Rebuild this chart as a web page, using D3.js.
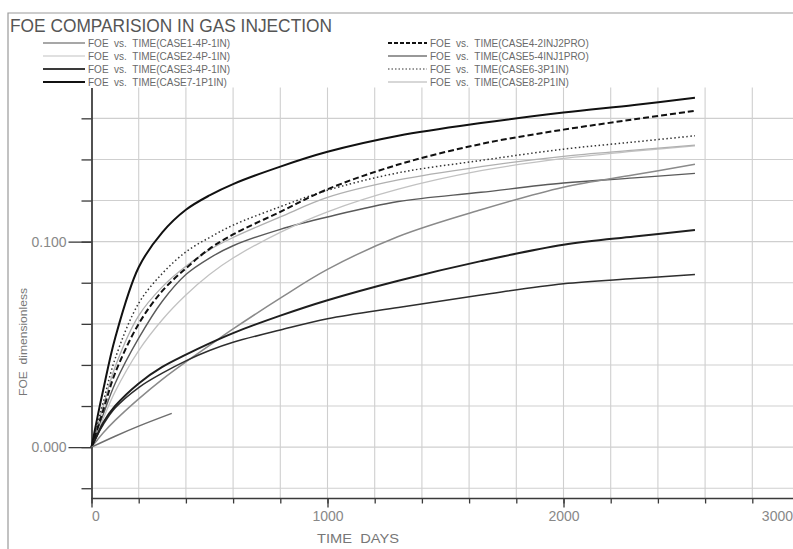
<!DOCTYPE html>
<html>
<head>
<meta charset="utf-8">
<script src="https://cdn.jsdelivr.net/npm/d3@7"></script>
<style>
    body { margin: 0; background: #fff; }
    text { font-family: 'Liberation Sans', Arial, sans-serif; fill: #6a6a6a; white-space: pre; }
    .grid { stroke: #cfcfcf; stroke-width: 1.1; }
    .axis path, .axis line { stroke: #3a3a3a; stroke-width: 1.3; }
    .frame { stroke: #9a9a9a; stroke-width: 1.2; fill: none; }
</style>
</head>
<body>
<svg class="scene"></svg>
<script>

//
// data
//

var days = [0, 25, 50, 100, 200, 300, 400, 500, 600, 800, 1000, 1300, 1650, 2000, 2300, 2557];

var case1 = [0, 0.0035, 0.007, 0.013, 0.0235, 0.033, 0.0415, 0.0495, 0.0575, 0.0725, 0.0865, 0.1025, 0.1155, 0.1265, 0.1325, 0.1376];
var case2 = [0, 0.007, 0.014, 0.027, 0.047, 0.062, 0.074, 0.084, 0.092, 0.1045, 0.1145, 0.1255, 0.1345, 0.1405, 0.144, 0.1466];
var case3 = [0, 0.006, 0.012, 0.020, 0.031, 0.039, 0.045, 0.0505, 0.0555, 0.064, 0.0715, 0.081, 0.0905, 0.0985, 0.1025, 0.1056];
var case4 = [0, 0.009, 0.018, 0.036, 0.060, 0.076, 0.087, 0.0965, 0.1035, 0.1145, 0.1255, 0.1375, 0.1475, 0.1545, 0.1595, 0.1637];
var case5 = [0, 0.006, 0.011, 0.019, 0.029, 0.036, 0.042, 0.047, 0.051, 0.057, 0.0625, 0.068, 0.074, 0.0795, 0.082, 0.084];
var case6 = [0, 0.011, 0.022, 0.043, 0.070, 0.0845, 0.095, 0.102, 0.108, 0.117, 0.125, 0.1335, 0.1395, 0.145, 0.1485, 0.1515];
var case7 = [0, 0.0145, 0.028, 0.053, 0.0875, 0.1045, 0.1155, 0.1225, 0.128, 0.1365, 0.1437, 0.1515, 0.1577, 0.1628, 0.1665, 0.170];
var case8 = [0, 0.010, 0.020, 0.039, 0.064, 0.078, 0.088, 0.096, 0.102, 0.112, 0.1215, 0.130, 0.1365, 0.1415, 0.1445, 0.147];
// curves drawn without a legend entry
var extraDark = [0, 0.008, 0.016, 0.031, 0.053, 0.071, 0.084, 0.092, 0.098, 0.106, 0.112, 0.1195, 0.124, 0.1285, 0.131, 0.1332];
var shortDays = [0, 100, 200, 340];
var shortRun = [0, 0.0053, 0.0102, 0.0164];

var legendLeft = ["FOE  vs.  TIME(CASE1-4P-1IN)", "FOE  vs.  TIME(CASE2-4P-1IN)",
                  "FOE  vs.  TIME(CASE3-4P-1IN)", "FOE  vs.  TIME(CASE7-1P1IN)"];
var legendRight = ["FOE  vs.  TIME(CASE4-2INJ2PRO)", "FOE  vs.  TIME(CASE5-4INJ1PRO)",
                   "FOE  vs.  TIME(CASE6-3P1IN)", "FOE  vs.  TIME(CASE8-2P1IN)"];

var xMajor = [0, 1000, 2000, 3000];
var yMajor = [0, 0.1];

//
// scene
//

var width = 793,
    height = 549;

var scene = d3.select(".scene")
    .attr("width", width)
    .attr("height", height);

var x = d3.scaleLinear().domain([0, 3000]).range([91.5, 799.5]);
var y = d3.scaleLinear().domain([-0.025, 0.175]).range([498.5, 87.5]);

var xMinor = d3.range(0, 3001, 200);
var yMinor = d3.range(-0.02, 0.161, 0.02);

// frame
scene.append("path")
    .attr("class", "frame")
    .attr("d", "M8,549 V13 H793");

//
// grid
//

scene.append("g").selectAll("line")
    .data(xMinor.filter(function (d) { return d > 0; }))
    .enter().append("line")
    .attr("class", "grid")
    .attr("x1", function (d) { return x(d); })
    .attr("x2", function (d) { return x(d); })
    .attr("y1", y(0.175))
    .attr("y2", y(-0.025));

scene.append("g").selectAll("line")
    .data(yMinor)
    .enter().append("line")
    .attr("class", "grid")
    .attr("x1", x(0))
    .attr("x2", width)
    .attr("y1", function (d) { return y(d); })
    .attr("y2", function (d) { return y(d); });

//
// axes
//

scene.append("g")
    .attr("class", "axis")
    .attr("transform", "translate(" + x(0) + ",0)")
    .call(d3.axisLeft(y).tickValues(yMinor).tickSize(10).tickSizeOuter(0).tickFormat(""));

var yAxis = scene.append("g")
    .attr("class", "axis")
    .attr("transform", "translate(" + x(0) + ",0)")
    .call(d3.axisLeft(y).tickValues(yMajor).tickSize(23).tickSizeOuter(0).tickFormat(d3.format(".3f")));
yAxis.selectAll("text")
    .attr("x", -25)
    .style("font-size", "14px")
    .style("fill", "#888");

scene.append("g")
    .attr("class", "axis")
    .attr("transform", "translate(0," + y(-0.025) + ")")
    .call(d3.axisBottom(x).tickValues(xMinor).tickSize(5).tickSizeOuter(0).tickFormat(""))
    .select(".domain").attr("d", "M" + x(0) + ",0H" + width);

var xAxis = scene.append("g")
    .attr("class", "axis")
    .attr("transform", "translate(0," + y(-0.025) + ")")
    .call(d3.axisBottom(x).tickValues(xMajor).tickSize(9).tickSizeOuter(0).tickFormat(d3.format("d")));
xAxis.select(".domain").remove();
xAxis.selectAll("text")
    .attr("y", 13)
    .attr("dx", function (d) { return d === 3000 ? -7 : 0; })
    .style("font-size", "14px")
    .style("fill", "#888")
    .attr("text-anchor", function (d) { return d === 0 ? "start" : d === 3000 ? "end" : "middle"; });

scene.append("text")
    .attr("x", 317)
    .attr("y", 543)
    .attr("textLength", 82)
    .attr("lengthAdjust", "spacingAndGlyphs")
    .style("font-size", "13px")
    .style("fill", "#777")
    .text("TIME  DAYS");

scene.append("text")
    .attr("transform", "translate(27,342) rotate(-90)")
    .attr("text-anchor", "middle")
    .attr("textLength", 108)
    .attr("lengthAdjust", "spacingAndGlyphs")
    .style("font-size", "11px")
    .style("fill", "#777")
    .text("FOE  dimensionless");

//
// curves
//

var series = [
    { vals: extraDark, color: "#5a5a5a", w: 1.4, dash: null },
    { vals: case2, color: "#c2c2c2", w: 1.3, dash: null },
    { vals: case8, color: "#b0b0b0", w: 1.3, dash: null },
    { vals: case1, color: "#8a8a8a", w: 1.5, dash: null },
    { vals: case5, color: "#2e2e2e", w: 1.5, dash: null },
    { vals: case3, color: "#1e1e1e", w: 2.0, dash: null },
    { vals: case6, color: "#333", w: 1.5, dash: "1.5,2.5" },
    { vals: case4, color: "#111", w: 2.0, dash: "6,3" },
    { vals: case7, color: "#111", w: 2.0, dash: null }
];

var line = d3.line()
    .x(function (d) { return x(d[0]); })
    .y(function (d) { return y(d[1]); })
    .curve(d3.curveCatmullRom.alpha(0.5));

series.forEach(function (s) {
    scene.append("path")
        .datum(days.map(function (t, i) { return [t, s.vals[i]]; }))
        .attr("d", line)
        .attr("fill", "none")
        .attr("stroke", s.color)
        .attr("stroke-width", s.w)
        .attr("stroke-dasharray", s.dash);
});

scene.append("path")
    .datum(shortDays.map(function (t, i) { return [t, shortRun[i]]; }))
    .attr("d", line)
    .attr("fill", "none")
    .attr("stroke", "#6e6e6e")
    .attr("stroke-width", 1.5);

//
// legend
//

var legendStyle = [
    { color: "#8a8a8a", w: 1.5, dash: null },
    { color: "#c2c2c2", w: 1.2, dash: null },
    { color: "#3a3a3a", w: 2.2, dash: null },
    { color: "#111", w: 2.2, dash: null },
    { color: "#111", w: 2.0, dash: "4,2" },
    { color: "#333", w: 1.2, dash: null },
    { color: "#333", w: 1.2, dash: "1.5,2" },
    { color: "#b0b0b0", w: 1.2, dash: null }
];

function legendRow(label, i, x0, x1, tx) {
    var row = i % 4;
    var cy = 43 + row * 13;
    var st = legendStyle[i];
    scene.append("line")
        .attr("x1", x0).attr("x2", x1)
        .attr("y1", cy).attr("y2", cy)
        .attr("stroke", st.color)
        .attr("stroke-width", st.w)
        .attr("stroke-dasharray", st.dash);
    scene.append("text")
        .attr("x", tx)
        .attr("y", cy + 3.5)
        .style("font-size", "10px")
        .text(label);
}

legendLeft.forEach(function (l, i) { legendRow(l, i, 43, 85, 88); });
legendRight.forEach(function (l, i) { legendRow(l, i + 4, 388, 427, 430); });

//
// title
//

scene.append("text")
    .attr("x", 10)
    .attr("y", 32)
    .attr("textLength", 322)
    .attr("lengthAdjust", "spacingAndGlyphs")
    .style("font-size", "19px")
    .style("fill", "#555")
    .text("FOE COMPARISION IN GAS INJECTION");

</script>
</body>
</html>
